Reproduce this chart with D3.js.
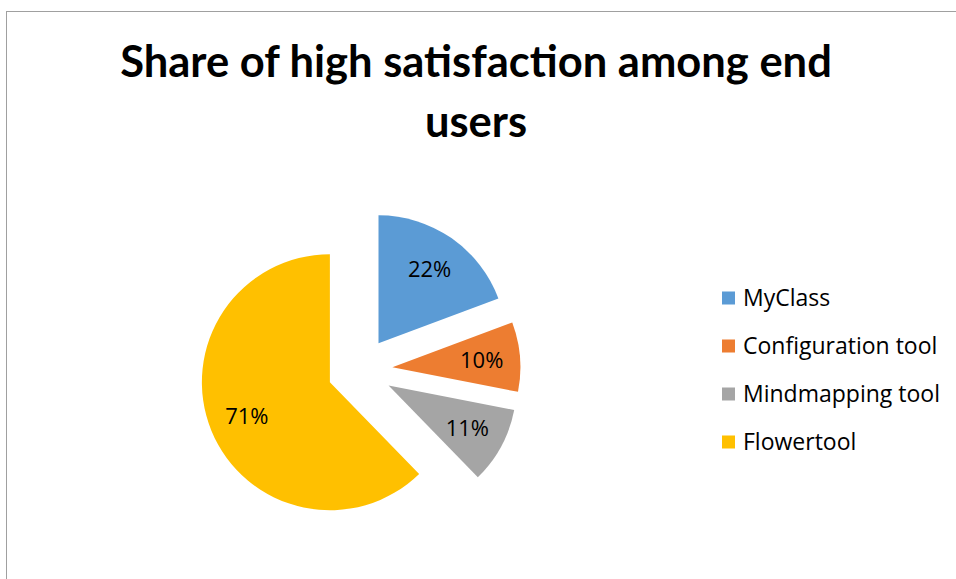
<!DOCTYPE html>
<html><head><meta charset="utf-8">
<script src="https://cdn.jsdelivr.net/npm/d3@7"></script>
<style>body{margin:0;background:#fff;} svg{display:block;}</style>
</head><body>
<svg id="c" width="956" height="579"></svg>
<script>
const categories = ["MyClass", "Configuration tool", "Mindmapping tool", "Flowertool"];
const values = [22, 10, 11, 71];
const labels = ["22%", "10%", "11%", "71%"];
const colors = ["#5B9BD5", "#ED7D31", "#A5A5A5", "#FFC000"];
const titleLines = ["Share of high satisfaction among end", "users"];

const svg = d3.select("#c");
const titleFont = "Lato, 'Open Sans', sans-serif";
const font = "'Open Sans', 'Noto Sans', sans-serif";

svg.append("rect").attr("x", 6.5).attr("y", 11.5).attr("width", 1200).attr("height", 1200)
  .attr("fill", "#fff").attr("stroke", "#a0a0a0").attr("stroke-width", 1);

const title = svg.append("text").attr("text-anchor", "middle").attr("font-family", titleFont)
  .attr("font-weight", "bold").attr("font-size", 43.5).attr("fill", "#000");
titleLines.forEach((t, i) => title.append("tspan").attr("x", 476).attr("y", 77 + i * 60).text(t));

const cx = 360, cy = 370, r = 128, explode = 32.5;
const pie = d3.pie().sort(null).value(d => d)(values);
const arc = d3.arc().innerRadius(0).outerRadius(r);

const g = svg.append("g").attr("transform", `translate(${cx},${cy})`);
const slices = g.selectAll("g.s").data(pie).join("g").attr("class", "s")
  .attr("transform", d => {
    const a = (d.startAngle + d.endAngle) / 2;
    return `translate(${explode * Math.sin(a)},${-explode * Math.cos(a)})`;
  });
slices.append("path").attr("d", arc).attr("fill", (d, i) => colors[i]);
slices.append("text")
  .attr("x", d => { const a = (d.startAngle + d.endAngle) / 2; return 0.7 * r * Math.sin(a); })
  .attr("y", d => { const a = (d.startAngle + d.endAngle) / 2; return -0.7 * r * Math.cos(a); })
  .attr("dy", "0.35em").attr("text-anchor", "middle").attr("font-family", font)
  .attr("font-size", 22).attr("fill", "#000").text((d, i) => labels[i]);

const leg = svg.append("g");
const rows = leg.selectAll("g").data(categories).join("g")
  .attr("transform", (d, i) => `translate(722,${298 + i * 48})`);
rows.append("rect").attr("x", 0).attr("y", -6.5).attr("width", 13).attr("height", 13)
  .attr("fill", (d, i) => colors[i]);
rows.append("text").attr("x", 21).attr("dy", "0.35em").attr("font-family", font)
  .attr("font-size", 23).attr("fill", "#000").text(d => d);
</script>
</body></html>
